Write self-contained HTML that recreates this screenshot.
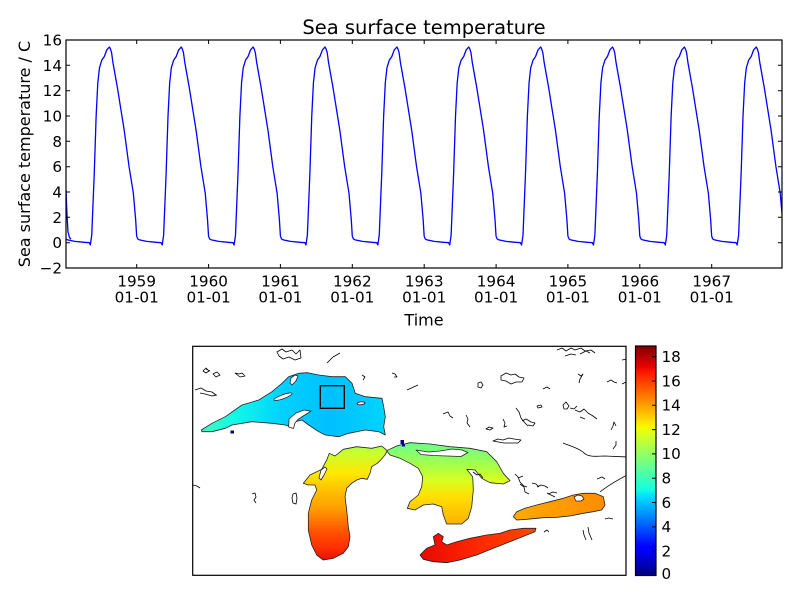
<!DOCTYPE html>
<html><head><meta charset="utf-8"><style>
html,body{margin:0;padding:0;background:#fff;}
svg{display:block;}
text{font-family:"DejaVu Sans","Liberation Sans",sans-serif;fill:#000;}
</style></head><body>
<svg width="800" height="600" viewBox="0 0 800 600" xmlns="http://www.w3.org/2000/svg">
<defs>
<clipPath id="topclip"><rect x="66" y="40" width="716" height="228"/></clipPath>
<clipPath id="mapclip"><rect x="193" y="346.5" width="433" height="229"/></clipPath>
<path id="cyc" fill="none" stroke="#0000ff" stroke-width="1.3" stroke-linejoin="round" d="M0,236.3 L1.08,238.9 L2.88,239.9 L10.06,241.4 L19.41,242.3 L24.44,242.7 L25.52,245.0 L26.95,235.1 L27.67,217.3 L29.47,173 L31.34,116 L32.99,83.1 L34.64,67.9 L36.94,60.3 L39.53,56.5 L41.9,50.1 L44.56,47 L45.64,48.9 L46.79,52.7 L48.16,62.8 L52.47,86.9 L59.37,130 L64.26,166.7 L68.57,193.3 L70.87,219.9 L71.875,236.3"/>
<linearGradient id="jet" x1="0" y1="1" x2="0" y2="0">
<stop offset="0" stop-color="#000080"/>
<stop offset="0.11" stop-color="#0000ff"/>
<stop offset="0.125" stop-color="#0000ff"/>
<stop offset="0.34" stop-color="#00dbff"/>
<stop offset="0.35" stop-color="#00e5f8"/>
<stop offset="0.375" stop-color="#14ffe2"/>
<stop offset="0.64" stop-color="#eeff08"/>
<stop offset="0.65" stop-color="#f7f500"/>
<stop offset="0.66" stop-color="#ffec00"/>
<stop offset="0.89" stop-color="#ff1300"/>
<stop offset="0.91" stop-color="#e80000"/>
<stop offset="1" stop-color="#800000"/>
</linearGradient>
<linearGradient id="gSup" gradientUnits="userSpaceOnUse" x1="200" y1="0" x2="386" y2="0">
<stop offset="0" stop-color="#40ffc0"/>
<stop offset="0.2" stop-color="#10f8e8"/>
<stop offset="0.45" stop-color="#00d0ff"/>
<stop offset="0.7" stop-color="#00c0ff"/>
<stop offset="1" stop-color="#00d4ff"/>
</linearGradient>
<linearGradient id="gMich" gradientUnits="userSpaceOnUse" x1="0" y1="446" x2="0" y2="560">
<stop offset="0" stop-color="#b0ff40"/>
<stop offset="0.06" stop-color="#c8ff30"/>
<stop offset="0.24" stop-color="#ffe800"/>
<stop offset="0.39" stop-color="#ffc000"/>
<stop offset="0.54" stop-color="#ffa000"/>
<stop offset="0.65" stop-color="#ff7800"/>
<stop offset="0.76" stop-color="#ff5000"/>
<stop offset="0.89" stop-color="#ff3000"/>
<stop offset="1" stop-color="#e81000"/>
</linearGradient>
<linearGradient id="gHur" gradientUnits="userSpaceOnUse" x1="0" y1="442" x2="0" y2="525">
<stop offset="0" stop-color="#68ff90"/>
<stop offset="0.25" stop-color="#a0ff50"/>
<stop offset="0.46" stop-color="#d8ff20"/>
<stop offset="0.66" stop-color="#ffe000"/>
<stop offset="0.82" stop-color="#ffc800"/>
<stop offset="1" stop-color="#ffb000"/>
</linearGradient>
<linearGradient id="gErie" gradientUnits="userSpaceOnUse" x1="420" y1="0" x2="536" y2="0">
<stop offset="0" stop-color="#e80800"/>
<stop offset="0.5" stop-color="#ff2800"/>
<stop offset="1" stop-color="#ff4800"/>
</linearGradient>
<linearGradient id="gOnt" gradientUnits="userSpaceOnUse" x1="513" y1="0" x2="605" y2="0">
<stop offset="0" stop-color="#ffaa00"/>
<stop offset="1" stop-color="#ff8c00"/>
</linearGradient>
</defs>

<!-- ===== Top chart ===== -->
<text x="424" y="34" font-size="19.5" text-anchor="middle">Sea surface temperature</text>

<g clip-path="url(#topclip)">
<path d="M66,190 L67,215 L68,232 L69.5,237.5 L71,239.2" fill="none" stroke="#0000ff" stroke-width="1.3"/>
<use href="#cyc" transform="translate(64.8,0)"/>
<use href="#cyc" transform="translate(136.675,0)"/>
<use href="#cyc" transform="translate(208.55,0)"/>
<use href="#cyc" transform="translate(280.425,0)"/>
<use href="#cyc" transform="translate(352.3,0)"/>
<use href="#cyc" transform="translate(424.175,0)"/>
<use href="#cyc" transform="translate(496.05,0)"/>
<use href="#cyc" transform="translate(567.925,0)"/>
<use href="#cyc" transform="translate(639.8,0)"/>
<use href="#cyc" transform="translate(711.675,0)"/>
</g>

<rect x="66" y="40" width="716" height="228" fill="none" stroke="#000" stroke-width="1.2"/>

<!-- y ticks -->
<g stroke="#000" stroke-width="1">
<path d="M66,242.7h4M66,217.3h4M66,192h4M66,166.7h4M66,141.3h4M66,116h4M66,90.7h4M66,65.3h4"/>
<path d="M782,242.7h-4M782,217.3h-4M782,192h-4M782,166.7h-4M782,141.3h-4M782,116h-4M782,90.7h-4M782,65.3h-4"/>
<path d="M136.7,268v-4M208.6,268v-4M280.4,268v-4M352.3,268v-4M424.2,268v-4M496.1,268v-4M567.9,268v-4M639.8,268v-4M711.7,268v-4"/>
<path d="M136.7,40v4M208.6,40v4M280.4,40v4M352.3,40v4M424.2,40v4M496.1,40v4M567.9,40v4M639.8,40v4M711.7,40v4"/>
</g>
<g font-size="15.2" text-anchor="end">
<text x="62" y="45.5">16</text>
<text x="62" y="70.8">14</text>
<text x="62" y="96.2">12</text>
<text x="62" y="121.5">10</text>
<text x="62" y="146.8">8</text>
<text x="62" y="172.2">6</text>
<text x="62" y="197.5">4</text>
<text x="62" y="222.8">2</text>
<text x="62" y="248.2">0</text>
<text x="62" y="273.5">−2</text>
</g>
<g font-size="15.2" text-anchor="middle">
<text x="136.7" y="286.5">1959</text><text x="136.7" y="302.5">01-01</text>
<text x="208.6" y="286.5">1960</text><text x="208.6" y="302.5">01-01</text>
<text x="280.4" y="286.5">1961</text><text x="280.4" y="302.5">01-01</text>
<text x="352.3" y="286.5">1962</text><text x="352.3" y="302.5">01-01</text>
<text x="424.2" y="286.5">1963</text><text x="424.2" y="302.5">01-01</text>
<text x="496.1" y="286.5">1964</text><text x="496.1" y="302.5">01-01</text>
<text x="567.9" y="286.5">1965</text><text x="567.9" y="302.5">01-01</text>
<text x="639.8" y="286.5">1966</text><text x="639.8" y="302.5">01-01</text>
<text x="711.7" y="286.5">1967</text><text x="711.7" y="302.5">01-01</text>
</g>
<text x="424" y="325.3" font-size="16" text-anchor="middle">Time</text>
<text transform="translate(30,154) rotate(-90)" font-size="16" text-anchor="middle">Sea surface temperature / C</text>

<!-- ===== Map ===== -->
<g clip-path="url(#mapclip)">
<g stroke="#222" stroke-width="0.8" stroke-linejoin="round">
<!-- Superior -->
<path fill="url(#gSup)" d="M201.3,430 L212,423.3 L225.3,416.7 L242,405 L258.7,400 L272,391.7 L282,383.3 L288.7,376.7 L298.7,373.3 L307,372.7 L318.7,375 L332,376.7 L345.3,376.7 L352,383.3 L355.3,393.3 L365.3,396.7 L382,398.3 L383.7,406.7 L385.3,416.7 L383.7,426.7 L385.3,435 L378.7,431.7 L365.3,430 L348.7,433.3 L338.7,436.7 L325.3,435 L318.7,431.7 L308.7,425 L302,420 L295.3,421.7 L290.3,426.7 L285.3,425 L272,423.3 L252,421.7 L232,425 L225.3,428.3 L212,431.7 L202,431.7 Z"/>
<!-- Keweenaw -->
<path fill="#fff" d="M288.7,427 L289,419 L296,413 L304,410 L311,411.2 L304,415.5 L298,419.5 L295,423 L293.5,428.5 Z"/>
<ellipse cx="283" cy="396.7" rx="9.6" ry="2" transform="rotate(-20 283 396.7)" fill="#fff"/>
<ellipse cx="361" cy="403.3" rx="4" ry="1.4" transform="rotate(-8 361 403.3)" fill="#fff"/>
<path fill="#fff" d="M291,378 l4,-3 l3,1 l-2,5 l-4,4 l-2,-2 z"/>
<!-- Michigan -->
<path fill="url(#gMich)" d="M303.3,483.3 L310,475 L321.7,469.3 L326.7,460 L329.3,453.3 L335,456 L343.3,449.3 L356.7,446.7 L371.7,448.3 L381.7,446 L387.3,450.7 L385,455 L380.7,460 L377.3,463.3 L371.7,466.7 L370,473.3 L367.3,479.3 L361.7,478.3 L356.7,480 L351.7,483.3 L346.7,488.3 L345,496.7 L346.7,510 L348.3,526.7 L350,536.7 L348.3,546.7 L343.3,553.3 L333.3,558.3 L323.3,560 L316.7,555 L311.7,545 L308.3,530 L308.3,513.3 L311.7,500 L316.7,490 L315,485 L308.3,485 Z"/>
<path fill="#fff" d="M321,470 l4,-3 l2,2 l-3,6 l-3,5 l-2,-2 z"/>
<!-- Huron -->
<path fill="url(#gHur)" d="M386.7,450.7 L396.7,446 L410,442.7 L430,444 L450,446.7 L470,448.3 L486.7,451.7 L496.7,461.7 L503.3,473.3 L510,480.7 L503.3,484 L490,482.7 L481.7,478.3 L475,470 L466.7,469.3 L472.7,476.7 L473.3,490 L471.7,506.7 L468.3,518.3 L461.7,524 L446.7,524 L443.3,515 L441.7,506.7 L433.3,504 L423.3,505 L415,510 L407.3,508.3 L410,501.7 L418.3,495 L421.7,486.7 L422.7,476.7 L418.3,468.3 L410,463.3 L400,458.3 L390,455 Z"/>
<path fill="#fff" d="M416,450 L428,452 L440,451 L452,449 L462,450 L468,452.5 L461,456.5 L447,456 L433,455.5 L421,454.5 Z"/>
<!-- Erie -->
<path fill="url(#gErie)" d="M420,555 L426.7,548.3 L435,545 L433.3,536.7 L438.3,533.3 L443.3,536.7 L441.7,541.7 L446.7,545 L456.7,541.7 L470,538.3 L486.7,535 L500,533.3 L510,530 L523.3,528.3 L536,528.3 L535,531.7 L526.7,535 L510,541.7 L493.3,548.3 L476.7,555 L460,560 L446.7,562.7 L433.3,561.7 L423.3,559.3 Z"/>
<!-- Ontario -->
<path fill="url(#gOnt)" d="M513.3,516.7 L516.7,511.7 L525,508.3 L536.7,505 L550,501.7 L563.3,498.3 L573.3,495 L583.3,493.3 L595,493.3 L603.3,496.7 L605,505 L601.7,510 L593.3,511.7 L583.3,513.3 L570,516 L556.7,517.3 L543.3,517.7 L526.7,519.3 L516.7,520 Z"/>
<path fill="#fff" d="M574,497 l4,-2 l4,1 l2,3 l-3,2 l-5,0 z"/>
</g>
<!-- dark blue specks -->
<rect x="230.5" y="430.5" width="3.5" height="3" fill="#000080"/>
<rect x="400.5" y="440" width="3.5" height="4" fill="#000080"/>
<rect x="402" y="444" width="3" height="2.5" fill="#000080"/>

<!-- region box -->
<rect x="320.3" y="385.7" width="24" height="22.6" fill="none" stroke="#000" stroke-width="1.3"/>

<!-- coastline squiggles -->
<g fill="none" stroke="#000" stroke-width="0.8" stroke-linejoin="round">
<path d="M277,352 l5,-3 l4,3 l6,-2 l4,4 l4,-4 l1,8 l-6,2 l-6,-3 l-6,2 l-4,-3 z"/>
<path d="M327,363 L333,357 L340,353"/>
<path d="M203,371 l3,-3 l3,3 l-3,2 z M206,369 l4,2"/>
<path d="M213,374 l4,-2 l3,3 l-4,2 z"/>
<path d="M235,373 l4,1 l3,-1 l3,3 l-5,1 z"/>
<path d="M195,390 l6,-2 l5,3 l6,1 l4,3 l-4,1 l-7,-2 l-5,-1 M212,396 l5,-1"/>
<path d="M362,375 l3,2 l-2,3"/>
<path d="M392,373 l3,1 l2,3 l-3,0"/>
<path d="M407,390 L418,385"/>
<path d="M193,485 l4,1 l3,2"/>
<path d="M252,494 l3,-1 l1,4 l-2,3 l2,3"/>
<path d="M293,494 l3,-1 l1,5 l-1,6 l-3,-1 l-1,-5 z"/>
<path d="M557,350 l5,-2 l4,3 l5,-3 l4,2 l6,-2 l4,3 l6,-1 l4,3 M565,356 l6,-2 l5,1 M580,354 l6,-3 l4,2"/>
<path d="M622,360 l5,-1"/>
<path d="M478,383 l3,-1 l2,3 l-2,3 l-3,-1 z"/>
<path d="M501,376 l5,-3 l5,2 l4,-1 l4,3 l5,1 l-2,4 l-6,0 l-5,2 l-5,-3 l-5,-1 z"/>
<path d="M543,389 l4,-2 l3,2"/>
<path d="M578,374 l3,2 l2,-2 l-3,5 l-1,4"/>
<path d="M607,382 l4,-2 l3,2 l3,1"/>
<path d="M622,384 l4,-2 l1,3"/>
<path d="M443,414 l5,-2 l2,4 l3,2"/>
<path d="M466,415 l2,4 l-1,4 l3,4"/>
<path d="M486,429 l3,-2 l4,1 l-3,2 z"/>
<path d="M503,419 l2,4 l-1,4 l3,-1"/>
<path d="M516,408 l3,4 l2,6 l4,5 l3,3 M522,421 l4,-2 l5,3 l4,1 l-2,3 l-5,-1"/>
<path d="M537,406 l4,-1 l1,2 l-4,1 z"/>
<path d="M563,405 l3,-3 l3,4 l-2,3 l-3,0 z M570,408 l4,1 l3,-3 M575,410 l5,2 l4,-3 l4,4 l5,3 l4,3 M580,417 l5,2"/>
<path d="M611,430 l2,-4 l1,-4 l2,4"/>
<path d="M613,449 l3,-4 l0,-4"/>
<path d="M493,441 l5,-2 l5,1 l6,-2 l5,1 l7,1 l-3,3 l-8,0 l-6,0 z"/>
<path d="M563,443 C570,446 578,448 583,452 C588,458 598,456 605,456 L627,457"/>
<path d="M600,492 C606,487 614,482 627,475"/>
<path d="M597,479 l5,-2 l3,2"/>
<path d="M515,474 l3,3 l2,5 l4,4 l3,1 M518,478 l5,-2"/>
<path d="M537,487 l4,-2 l4,1 l3,2"/>
<path d="M548,494 l5,-2 l4,1"/>
<path d="M605,519 l4,-1 l4,1"/>
<path d="M583,530 l1,5 l2,5 M588,527 l1,6 l3,7"/>
<path d="M473,472 l4,3 l3,-1 l3,4"/>
<path d="M520,484 l4,3 l1,5 l4,2 M532,483 l4,1 l3,3 M547,493 l8,4"/>
<path d="M544,532 l3,-2 l2,2"/>
</g>
</g>
<rect x="192.7" y="346.3" width="433.3" height="229" fill="none" stroke="#000" stroke-width="1.2"/>

<!-- Colorbar -->
<rect x="635.5" y="346" width="20.5" height="229.5" fill="url(#jet)"/>
<rect x="635.5" y="346" width="20.5" height="229.5" fill="none" stroke="#000" stroke-width="1.2"/>
<path d="M656,551.2h-4M656,526.9h-4M656,502.5h-4M656,478.2h-4M656,453.9h-4M656,429.6h-4M656,405.3h-4M656,381h-4M656,356.6h-4" stroke="#000" stroke-width="1"/>
<g font-size="15.2">
<text x="661.5" y="579">0</text>
<text x="661.5" y="556.5">2</text>
<text x="661.5" y="532.2">4</text>
<text x="661.5" y="507.8">6</text>
<text x="661.5" y="483.5">8</text>
<text x="661.5" y="459.2">10</text>
<text x="661.5" y="434.9">12</text>
<text x="661.5" y="410.6">14</text>
<text x="661.5" y="386.3">16</text>
<text x="661.5" y="361.9">18</text>
</g>
</svg>
</body></html>
